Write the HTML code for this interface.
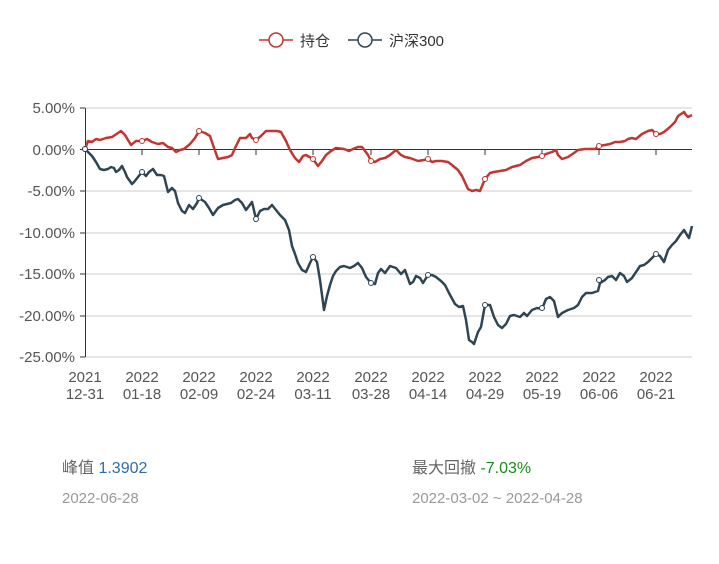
<!DOCTYPE html>
<html><head><meta charset="utf-8"><style>
body{margin:0;background:#fff;width:719px;height:564px;overflow:hidden;font-family:"Liberation Sans","Noto Sans CJK SC",sans-serif}
svg text{font-family:"Liberation Sans","Noto Sans CJK SC",sans-serif}
.t{position:absolute;font-size:16px;color:#666}
.d{position:absolute;font-size:15px;color:#999}
</style></head><body>
<svg width="719" height="564" style="position:absolute;left:0;top:0">
<g stroke="#ccc" stroke-width="1">
<line x1="85" y1="108" x2="692" y2="108"/><line x1="85" y1="191" x2="692" y2="191"/>
<line x1="85" y1="233" x2="692" y2="233"/><line x1="85" y1="274" x2="692" y2="274"/>
<line x1="85" y1="316" x2="692" y2="316"/><line x1="85" y1="357" x2="692" y2="357"/>
</g>
<line x1="85" y1="149.5" x2="692" y2="149.5" stroke="#333"/>
<line x1="85.5" y1="108" x2="85.5" y2="357" stroke="#333"/>
<g stroke="#333"><line x1="80" y1="108" x2="85" y2="108"/><line x1="80" y1="149.5" x2="85" y2="149.5"/><line x1="80" y1="191" x2="85" y2="191"/><line x1="80" y1="233" x2="85" y2="233"/><line x1="80" y1="274" x2="85" y2="274"/><line x1="80" y1="316" x2="85" y2="316"/><line x1="80" y1="357" x2="85" y2="357"/>
<line x1="142" y1="150" x2="142" y2="155"/><line x1="199" y1="150" x2="199" y2="155"/><line x1="256" y1="150" x2="256" y2="155"/><line x1="313" y1="150" x2="313" y2="155"/><line x1="371" y1="150" x2="371" y2="155"/><line x1="428" y1="150" x2="428" y2="155"/><line x1="485" y1="150" x2="485" y2="155"/><line x1="542" y1="150" x2="542" y2="155"/><line x1="599" y1="150" x2="599" y2="155"/><line x1="656" y1="150" x2="656" y2="155"/></g>
<g font-size="15" fill="#555" text-anchor="end">
<text x="75" y="113">5.00%</text><text x="75" y="155">0.00%</text><text x="75" y="196">-5.00%</text><text x="75" y="238">-10.00%</text><text x="75" y="279">-15.00%</text><text x="75" y="321">-20.00%</text><text x="75" y="362">-25.00%</text></g>
<g font-size="15" fill="#555" text-anchor="middle">
<text x="85" y="382">2021</text><text x="85" y="399">12-31</text>
<text x="142" y="382">2022</text><text x="142" y="399">01-18</text>
<text x="199" y="382">2022</text><text x="199" y="399">02-09</text>
<text x="256" y="382">2022</text><text x="256" y="399">02-24</text>
<text x="313" y="382">2022</text><text x="313" y="399">03-11</text>
<text x="371" y="382">2022</text><text x="371" y="399">03-28</text>
<text x="428" y="382">2022</text><text x="428" y="399">04-14</text>
<text x="485" y="382">2022</text><text x="485" y="399">04-29</text>
<text x="542" y="382">2022</text><text x="542" y="399">05-19</text>
<text x="599" y="382">2022</text><text x="599" y="399">06-06</text>
<text x="656" y="382">2022</text><text x="656" y="399">06-21</text></g>
<polyline fill="none" stroke="#2f4554" stroke-width="2.5" stroke-linejoin="round" points="85,149 92,156 96,162 100,169 104,170 108,169 111,167 114,168 116,172 119,170 122,166 125,172 127,177 132,184 134,182 138,177 142,172 146,176 149,172 153,169 157,175 161,175 164,176 168,192 172,188 175,191 178,203 182,211 185,213 189,205 193,209 197,203 199,198 205,202 209,208 213,215 218,208 223,205 227,204 231,203 235,200 238,199 242,203 246,210 249,206 252,202 256,219 260,211 264,209 268,209 272,205 276,210 280,215 285,220 289,230 292,246 295,254 298,263 302,270 306,272 310,263 313,257 317,262 320,280 324,310 327,296 330,285 333,276 336,271 340,267 344,266 350,268 354,266 358,263 362,268 366,277 371,283 375,284 378,273 381,269 385,273 390,266 396,268 401,274 405,270 410,284 413,282 416,276 420,278 423,283 428,275 432,275 436,277 441,281 445,285 449,293 455,304 459,307 463,306 466,320 469,340 472,342 474,344 478,332 481,327 485,305 490,305 494,317 498,325 502,328 506,324 510,316 514,315 520,317 524,313 527,316 532,310 537,308 542,309 546,299 550,297 554,301 558,317 562,313 568,310 574,308 578,305 582,297 586,293 592,293 598,291 600,283 605,280 608,277 612,276 616,280 620,273 624,276 627,282 632,278 636,272 640,266 644,265 648,262 652,258 656,254 660,256 664,262 668,250 672,245 676,241 680,235 684,230 687,235 689,238 692,226"/>
<polyline fill="none" stroke="#c23531" stroke-width="2.5" stroke-linejoin="round" points="85,149 88,141 92,142 96,139 100,140 106,138 112,137 118,133 121,131 125,135 128,140 131,145 136,141 142,141 147,139 152,142 158,144 163,143 168,147 172,148 176,152 180,150 184,149 190,144 195,138 199,131 205,133 210,136 213,145 218,159 223,158 228,157 232,155 236,146 240,138 246,138 250,134 252,138 256,140 261,136 266,131 272,131 277,131 281,132 286,141 290,150 295,158 299,162 303,156 306,155 313,159 318,166 322,161 326,155 331,151 336,148 344,149 349,151 353,149 358,147 362,147 368,155 371,161 375,162 380,159 385,158 390,155 396,150 401,155 405,157 410,158 418,161 424,160 428,159 432,162 436,161 442,161 448,162 452,165 458,170 462,176 468,189 472,191 476,190 480,191 485,179 490,173 494,172 500,171 506,170 512,167 520,165 526,161 532,158 538,157 542,156 546,154 552,152 556,150 558,155 562,159 568,157 574,153 578,150 585,149 595,149 599,146 605,145 610,144 615,142 620,142 625,141 628,139 632,138 636,139 642,134 648,131 652,130 656,134 660,134 664,132 670,127 675,122 678,116 681,114 684,112 686,115 688,117 692,115"/>
<g fill="#fff" stroke="#c23531" stroke-width="1">
<circle cx="85" cy="149" r="2.5"/><circle cx="142" cy="141" r="2.5"/><circle cx="199" cy="131" r="2.5"/><circle cx="256" cy="140" r="2.5"/><circle cx="313" cy="159" r="2.5"/><circle cx="371" cy="161" r="2.5"/><circle cx="428" cy="159" r="2.5"/><circle cx="485" cy="179" r="2.5"/><circle cx="542" cy="156" r="2.5"/><circle cx="599" cy="146" r="2.5"/><circle cx="656" cy="134" r="2.5"/></g>
<g fill="#fff" stroke="#2f4554" stroke-width="1">
<circle cx="85" cy="149" r="2.5"/><circle cx="142" cy="172" r="2.5"/><circle cx="199" cy="198" r="2.5"/><circle cx="256" cy="219" r="2.5"/><circle cx="313" cy="257" r="2.5"/><circle cx="371" cy="283" r="2.5"/><circle cx="428" cy="275" r="2.5"/><circle cx="485" cy="305" r="2.5"/><circle cx="542" cy="308" r="2.5"/><circle cx="599" cy="280" r="2.5"/><circle cx="656" cy="254" r="2.5"/></g>
<line x1="259" y1="40" x2="293" y2="40" stroke="#c23531" stroke-width="1.5"/><circle cx="276" cy="40" r="7" fill="#fff" stroke="#c23531" stroke-width="1.5"/>
<text x="300" y="46" font-size="15" fill="#333">持仓</text>
<line x1="348" y1="40" x2="382" y2="40" stroke="#2f4554" stroke-width="1.5"/><circle cx="365" cy="40" r="7" fill="#fff" stroke="#2f4554" stroke-width="1.5"/>
<text x="389" y="46" font-size="15" fill="#333">沪深300</text>
</svg>
<div class="t" style="left:62px;top:454px">峰值 <span style="color:#2f6ca3">1.3902</span></div>
<div class="d" style="left:62px;top:490px">2022-06-28</div>
<div class="t" style="left:412px;top:454px">最大回撤 <span style="color:#1a8a1a">-7.03%</span></div>
<div class="d" style="left:412px;top:490px">2022-03-02 ~ 2022-04-28</div>
</body></html>
